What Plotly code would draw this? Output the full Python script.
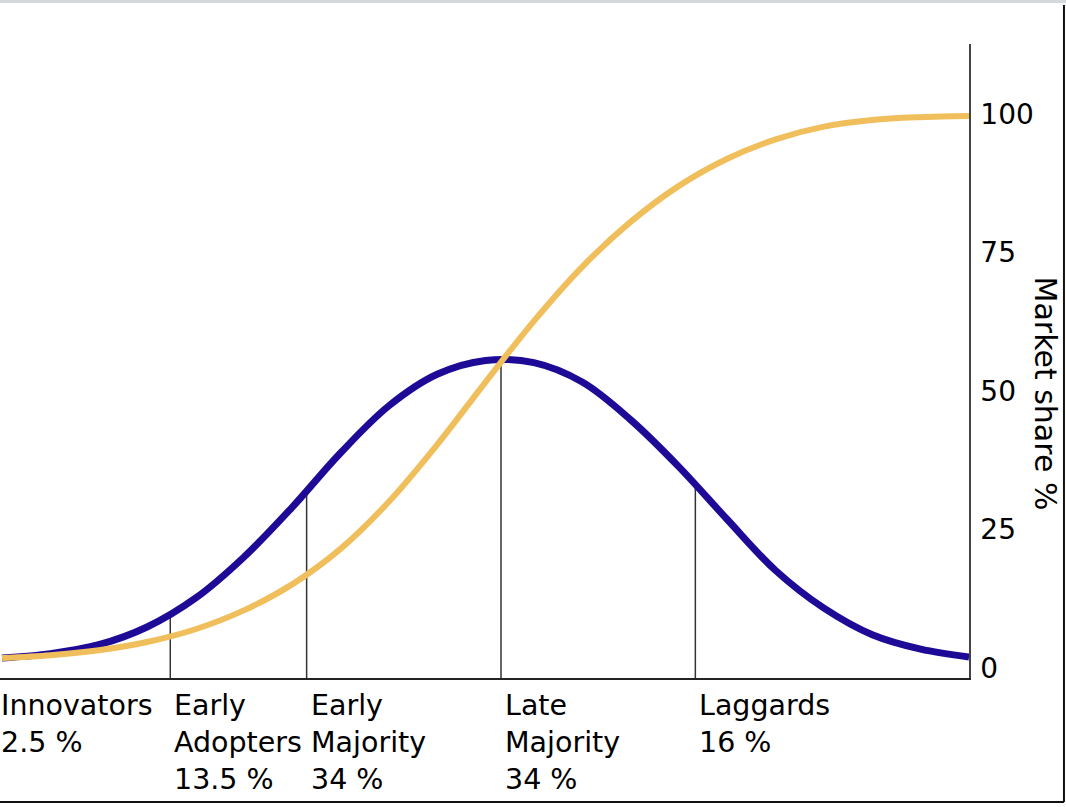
import plotly.graph_objects as go

# positions along the adoption timeline (0 = first adopters, 100 = last)
x_pos = [0, 5, 10, 15, 20, 25, 30, 35, 40, 45, 50, 55, 60, 65, 70, 75, 80, 85, 90, 95, 100]

# bell curve: share of new adopters
adopters = [1.8, 2.6, 4.2, 7.4, 12.6, 20.0, 29.0, 38.8, 47.3, 53.0, 55.5,
            55.1, 51.6, 44.8, 36.3, 26.8, 17.6, 10.8, 6.0, 3.4, 2.0]

# s-curve: cumulative market share
market_share = [1.8, 2.3, 3.2, 4.7, 7.0, 10.4, 15.1, 21.5, 30.0, 40.3, 51.6,
                62.6, 72.4, 80.5, 87.0, 91.9, 95.4, 97.7, 98.9, 99.4, 99.6]

# group boundaries and where they meet the bell curve
boundary_x = [17.4, 31.5, 51.6, 71.7]
boundary_top = [9.9, 31.9, 55.6, 33.3]

group_x = [0, 17.4, 31.5, 51.6, 71.7]
group_labels = ["Innovators<br>2.5 %", "Early<br>Adopters<br>13.5 %",
                "Early<br>Majority<br>34 %", "Late<br>Majority<br>34 %",
                "Laggards<br>16 %"]

y_ticks = [0, 25, 50, 75, 100]

FONT = "DejaVu Sans"
y_min, y_max = -1.8, 112.6

bx, by = [], []
for x, top in zip(boundary_x, boundary_top):
    bx += [x, x, None]
    by += [y_min, top, None]

fig = go.Figure()
fig.add_trace(go.Scatter(x=bx, y=by, mode="lines",
                         line=dict(color="#333333", width=1.5), hoverinfo="skip"))
fig.add_trace(go.Scatter(x=x_pos, y=adopters, mode="lines",
                         line=dict(color="#1d0a96", width=7, shape="spline", smoothing=1.0)))
fig.add_trace(go.Scatter(x=x_pos, y=market_share, mode="lines",
                         line=dict(color="#f0be5a", width=6, shape="spline", smoothing=1.0)))

for i, (x, txt) in enumerate(zip(group_x, group_labels)):
    fig.add_annotation(x=x, y=0, xref="x", yref="paper", text=txt, showarrow=False,
                       xanchor="left", yanchor="top", align="left",
                       xshift=-3 if i == 0 else 2, yshift=-9,
                       font=dict(family=FONT, size=28.5, color="black"))

fig.add_annotation(x=1.099, y=0.448, xref="paper", yref="paper", text="Market share %",
                   showarrow=False, textangle=90,
                   font=dict(family=FONT, size=30, color="black"))

# frame lines around the picture
fig.add_shape(type="line", xref="paper", yref="paper", x0=0, x1=1.1001, y0=1.067, y1=1.067,
              line=dict(color="#d5d8dc", width=3))
fig.add_shape(type="line", xref="paper", yref="paper", x0=0, x1=1.098, y0=-0.1956, y1=-0.1956,
              line=dict(color="#111111", width=2))
fig.add_shape(type="line", xref="paper", yref="paper", x0=1.098, x1=1.098, y0=1.0615, y1=-0.1956,
              line=dict(color="#111111", width=2))

fig.update_layout(
    width=1066, height=807,
    margin=dict(l=0, r=97, t=44, b=129),
    paper_bgcolor="white", plot_bgcolor="white",
    showlegend=False,
    font=dict(family=FONT, size=28, color="black"),
)
fig.update_xaxes(range=[-0.21, 100], showline=True, linecolor="#222222", linewidth=1.5,
                 showticklabels=False, showgrid=False, zeroline=False, ticks="")
fig.update_yaxes(range=[y_min, y_max], side="right", showline=True, linecolor="#444444",
                 linewidth=1.5, tickvals=y_ticks, ticks="", ticklabelstandoff=4,
                 tickfont=dict(family=FONT, size=28, color="black"),
                 showgrid=False, zeroline=False)

fig.write_html("out.html", config={"displayModeBar": False},
               post_script="document.body.style.margin='0';")
